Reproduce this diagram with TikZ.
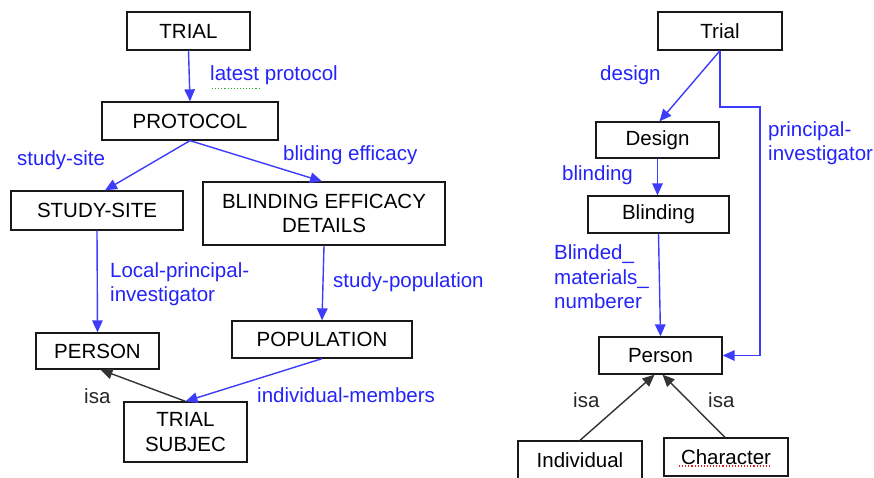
\documentclass[tikz,border=0pt]{standalone}
\usepackage{fontspec}
\setmainfont{Liberation Sans}
\usetikzlibrary{arrows.meta}
\definecolor{reltext}{RGB}{35,35,250}
\definecolor{relline}{RGB}{60,60,250}
\definecolor{spellgreen}{RGB}{40,170,40}
\definecolor{spellred}{RGB}{230,30,30}
\begin{document}
\begin{tikzpicture}[x=1pt,y=-1pt,
  txt/.style={font=\fontsize{20.5}{24.5}\selectfont},
  box/.style={txt, draw=black!90, line width=1.3pt, inner sep=0pt, align=center},
  rel/.style={draw=relline, line width=1.4pt, -{Triangle[length=12pt,width=10.5pt]}},
  isarel/.style={draw=black!80, line width=1.4pt, -{Triangle[length=12pt,width=10.5pt]}},
  lbl/.style={txt, text=reltext, inner sep=0pt, anchor=west, align=left},
  isalbl/.style={txt, text=black!85, inner sep=0pt, anchor=west},
  squiggle/.style={dotted, line width=1.1pt}]
\clip (0,0) rectangle (874,477);
\fill[white] (0,0) rectangle (874,477);

% ---- upper-case model ----
\node[box, minimum width=123pt, minimum height=38pt] (trialL)  at (188.5,31) {TRIAL};
\node[box, minimum width=176pt, minimum height=38pt] (protocol) at (190,121) {PROTOCOL};
\node[box, minimum width=172pt, minimum height=39pt] (site)    at (97,210.5) {STUDY-SITE};
\node[box, minimum width=242pt, minimum height=63pt] (blind)   at (324,213.5) {BLINDING EFFICACY\\DETAILS};
\node[box, minimum width=123pt, minimum height=36pt] (personL) at (97.5,351) {PERSON};
\node[box, minimum width=180pt, minimum height=37pt] (pop)     at (322,339.5) {POPULATION};
\node[box, minimum width=123pt, minimum height=60pt] (subj)    at (185.5,432) {TRIAL\\SUBJEC};

\draw[rel] (trialL.south) -- (protocol.north);
\draw[rel] (protocol.south) -- ([xshift=8pt]site.north);
\draw[rel] (protocol.south) -- ([xshift=-2pt]blind.north);
\draw[rel] (site.south) -- (personL.north);
\draw[rel] (blind.south) -- (pop.north);
\draw[rel] (pop.south) -- (subj.north);
\draw[isarel] (subj.north) -- ([xshift=3pt]personL.south);

\node[lbl] (lLatest) at (210,75) {latest protocol};
\draw[spellgreen, squiggle] ([xshift=2pt,yshift=-4pt]lLatest.south west) -- ++(48,0);
\node[lbl] (lSite)   at (17,160) {study-site};
\node[lbl] (lBlind)  at (283,155) {bliding efficacy};
\node[lbl] (lLocal)  at (110,284) {Local-principal-\\investigator};
\node[lbl] (lPop)    at (333,282) {study-population};
\node[lbl] (lMemb)   at (257,395) {individual-members};
\node[isalbl] (lIsaL) at (84,396) {isa};

% ---- mixed-case model ----
\node[box, minimum width=124pt, minimum height=38pt] (trialR)  at (720,31) {Trial};
\node[box, minimum width=123pt, minimum height=36pt] (design)  at (657.5,140) {Design};
\node[box, minimum width=141pt, minimum height=37pt] (blindR)  at (658.5,214.5) {Blinding};
\node[box, minimum width=123pt, minimum height=37pt] (personR) at (660.5,355.5) {Person};
\node[box, minimum width=124pt, minimum height=38pt] (indiv)   at (580,460) {Individual};
\node[box, minimum width=124pt, minimum height=38pt] (charac)  at (726,457) {Character};
\draw[spellred, squiggle] ([xshift=-47pt,yshift=-9pt]charac.center) -- ++(91,0);

\coordinate (piBend) at (760,107);
\draw[rel] (trialR.south) -- ([xshift=2pt]design.north);
\draw[rel] (trialR.south) |- (piBend) |- (personR.east);
\draw[rel] (design.south) -- (design.south |- blindR.north);
\draw[rel] (blindR.south) -- (personR.north);
\draw[isarel] (indiv.north) -- ([xshift=-6pt]personR.south);
\draw[isarel] ([xshift=-1pt]charac.north) -- ([xshift=2pt]personR.south);

\node[lbl] (lDesign) at (600,75) {design};
\node[lbl] (lPI)     at (768,143) {principal-\\investigator};
\node[lbl] (lBlindR) at (562,175) {blinding};
\node[lbl] (lNum)    at (554,277) {Blinded\_\\materials\_\\numberer};
\node[isalbl] (lIsa1) at (573,400) {isa};
\node[isalbl] (lIsa2) at (708,400) {isa};
\end{tikzpicture}
\end{document}
